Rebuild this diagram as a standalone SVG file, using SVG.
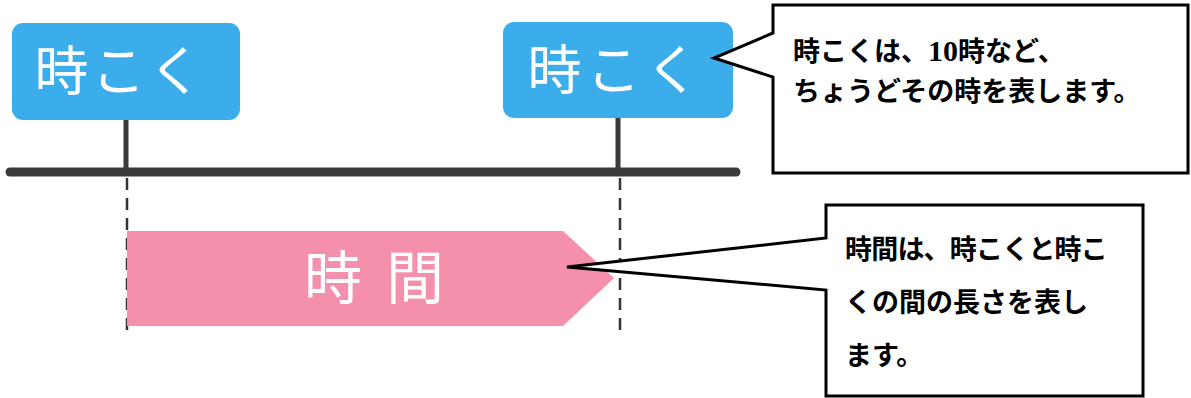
<svg xmlns="http://www.w3.org/2000/svg" width="1191" height="398" viewBox="0 0 1191 398">
<style>
.tag{fill:#3badea}
.tagtxt{fill:#ffffff;font-family:"Noto Sans CJK JP",sans-serif;font-size:54px;font-weight:400}
.stem{stroke:#3a3a3a;stroke-width:5;fill:none}
.dash{stroke:#333333;stroke-width:2.5;stroke-dasharray:12,8;fill:none}
.call{fill:#ffffff;stroke:#000000;stroke-width:3;stroke-linejoin:miter}
.ctxt{fill:#000000;font-family:"Noto Sans CJK JP",sans-serif;font-size:27px;font-weight:700}
</style>
<rect width="1191" height="398" fill="#ffffff"/>
<g id="connectors">
<line class="stem" x1="126" y1="118" x2="126" y2="172"/>
<line class="stem" x1="618" y1="116" x2="618" y2="172"/>
<line x1="10" y1="172" x2="736" y2="172" stroke="#3a3a3a" stroke-width="9" stroke-linecap="round"/>
<line class="dash" x1="127" y1="178" x2="127" y2="334"/>
<line class="dash" x1="620" y1="178" x2="620" y2="334"/>
</g>
<g id="jikoku-left">
<rect class="tag" x="12" y="23" width="228" height="97" rx="11"/>
<text class="tagtxt" x="120" y="91" text-anchor="middle" letter-spacing="3">時こく</text>
</g>
<g id="jikoku-right">
<rect class="tag" x="503" y="22" width="230" height="96" rx="11"/>
<text class="tagtxt" x="616" y="90" text-anchor="middle" letter-spacing="5">時こく</text>
</g>
<g id="jikan">
<polygon points="127,231 563,231 614,278 563,326 127,326" fill="#f48fac"/>
<text x="386" y="299" text-anchor="middle" fill="#ffffff" font-family="'Noto Sans CJK JP',sans-serif" font-size="58" letter-spacing="24">時間</text>
</g>
<g id="callout-jikoku">
<path class="call" d="M773,5 L1188,5 L1188,173 L773,173 L773,77 L714,58 L773,33 Z"/>
<text class="ctxt" x="793" y="61">時こくは、<tspan font-family="'Liberation Serif',serif" font-size="30">10</tspan>時など、</text>
<text class="ctxt" x="793" y="101">ちょうどその時を表します。</text>
</g>
<g id="callout-jikan">
<path class="call" d="M826,205 L1143,205 L1143,396 L826,396 L826,290 L567,267 L826,238 Z"/>
<text class="ctxt" x="845" y="259" letter-spacing="-0.8">時間は、時こくと時こ</text>
<text class="ctxt" x="845" y="312">くの間の長さを表し</text>
<text class="ctxt" x="845" y="365">ます。</text>
</g>
</svg>
